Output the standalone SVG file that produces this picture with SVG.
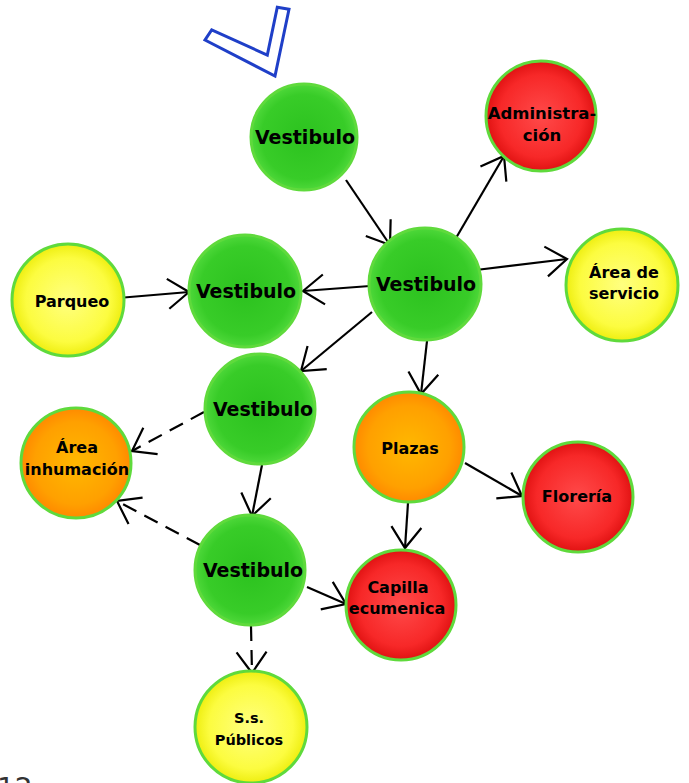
<svg xmlns="http://www.w3.org/2000/svg" width="689" height="783" viewBox="0 0 689 783">
<defs>
<radialGradient id="gGreen" cx="50%" cy="50%" r="50%"><stop offset="0" stop-color="#2cc21f"/><stop offset="0.8" stop-color="#38cc28"/><stop offset="1" stop-color="#4ed83a"/></radialGradient>
<radialGradient id="gRed" cx="50%" cy="50%" r="50%"><stop offset="0" stop-color="#ff4a4a"/><stop offset="0.75" stop-color="#f72828"/><stop offset="1" stop-color="#e01212"/></radialGradient>
<radialGradient id="gYellow" cx="50%" cy="50%" r="50%"><stop offset="0" stop-color="#ffff80"/><stop offset="0.75" stop-color="#fcfc40"/><stop offset="1" stop-color="#eeee10"/></radialGradient>
<radialGradient id="gOrange" cx="50%" cy="50%" r="50%"><stop offset="0" stop-color="#ffb800"/><stop offset="0.75" stop-color="#ffa000"/><stop offset="1" stop-color="#ff8a00"/></radialGradient>
<marker id="arr" markerUnits="userSpaceOnUse" markerWidth="40" markerHeight="40" viewBox="-25 -20 30 40" refX="0" refY="0" orient="auto">
<path d="M-21,-15 L0,0 L-21,15" fill="none" stroke="#000" stroke-width="2.2"/>
</marker>
<style>
.node{stroke:#5fda3c;stroke-width:3}
.lbl{font-family:"DejaVu Sans",Verdana,sans-serif;font-weight:bold;fill:#000;text-anchor:middle}
.v{font-size:19px}
.s{font-size:16.5px}
.m{font-size:16px}
.e{fill:none;stroke:#000;stroke-width:2.2;marker-end:url(#arr)}
.d{stroke-dasharray:15 9}
</style>
</defs>
<rect width="689" height="783" fill="#fff"/>
<polygon points="277.3,7.3 289,9.3 275,76 205,40 211.7,30 267.3,55" fill="#fff" stroke="#1f3fc8" stroke-width="3" stroke-linejoin="miter"/>
<g id="connectors">
<line class="e" x1="346" y1="180" x2="390" y2="245"/>
<line class="e" x1="456" y1="238" x2="504" y2="156"/>
<line class="e" x1="476" y1="270" x2="567" y2="259"/>
<line class="e" x1="370" y1="286" x2="303" y2="291"/>
<line class="e" x1="118" y1="298" x2="189" y2="292"/>
<line class="e" x1="372" y1="312" x2="301" y2="371"/>
<line class="e" x1="427" y1="341" x2="421" y2="394"/>
<line class="e d" x1="204" y1="412" x2="132" y2="451"/>
<line class="e" x1="262" y1="465" x2="252" y2="516"/>
<line class="e d" x1="200" y1="545" x2="117" y2="501"/>
<line class="e" x1="465" y1="463" x2="522" y2="496"/>
<line class="e" x1="408" y1="503" x2="405" y2="548"/>
<line class="e" x1="307" y1="587" x2="346" y2="604"/>
<line class="e d" x1="251" y1="626" x2="252" y2="673"/>
</g>
<g id="vestibulo1"><circle class="node" cx="304" cy="137" r="53" fill="url(#gGreen)"/><text class="lbl v" x="305" y="144">Vestibulo</text></g>
<g id="administracion"><circle class="node" cx="541" cy="116" r="55" fill="url(#gRed)"/><text class="lbl s" x="542" y="119">Administra-</text><text class="lbl s" x="542" y="141">ción</text></g>
<g id="parqueo"><circle class="node" cx="68" cy="300" r="56" fill="url(#gYellow)"/><text class="lbl m" x="72" y="307">Parqueo</text></g>
<g id="vestibulo2"><circle class="node" cx="245" cy="291" r="56" fill="url(#gGreen)"/><text class="lbl v" x="246" y="298">Vestibulo</text></g>
<g id="vestibulo3"><circle class="node" cx="425" cy="284" r="56" fill="url(#gGreen)"/><text class="lbl v" x="426" y="291">Vestibulo</text></g>
<g id="servicio"><circle class="node" cx="622" cy="285" r="56" fill="url(#gYellow)"/><text class="lbl m" x="624" y="278">Área de</text><text class="lbl m" x="624" y="299">servicio</text></g>
<g id="vestibulo4"><circle class="node" cx="260" cy="409" r="55" fill="url(#gGreen)"/><text class="lbl v" x="263" y="416">Vestibulo</text></g>
<g id="inhumacion"><circle class="node" cx="76" cy="463" r="55" fill="url(#gOrange)"/><text class="lbl m" x="77" y="453">Área</text><text class="lbl m" x="77" y="475">inhumación</text></g>
<g id="plazas"><circle class="node" cx="409" cy="447" r="55" fill="url(#gOrange)"/><text class="lbl m" x="410" y="454">Plazas</text></g>
<g id="floreria"><circle class="node" cx="578" cy="497" r="55" fill="url(#gRed)"/><text class="lbl m" x="577" y="502">Florería</text></g>
<g id="vestibulo5"><circle class="node" cx="250" cy="570" r="55" fill="url(#gGreen)"/><text class="lbl v" x="253" y="577">Vestibulo</text></g>
<g id="capilla"><circle class="node" cx="401" cy="605" r="55" fill="url(#gRed)"/><text class="lbl m" x="398" y="593">Capilla</text><text class="lbl m" x="397" y="614">ecumenica</text></g>
<g id="publicos"><circle class="node" cx="251" cy="727" r="56" fill="url(#gYellow)"/><text class="lbl" style="font-size:14.5px" x="249" y="723">S.s.</text><text class="lbl" style="font-size:14.5px" x="249" y="745">Públicos</text></g>
<text x="-3" y="798" style="font-family:'DejaVu Sans',sans-serif;font-size:28px;fill:#333">12</text>
</svg>
